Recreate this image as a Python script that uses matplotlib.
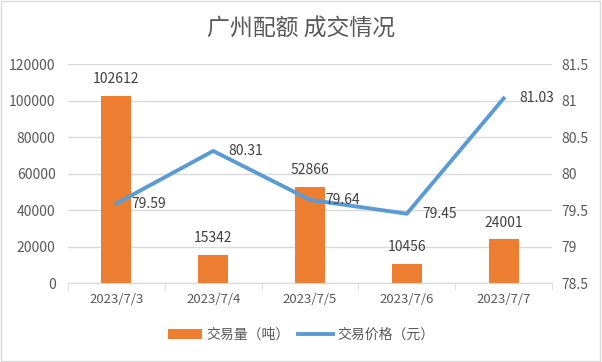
import matplotlib.pyplot as plt
import numpy as np

plt.rcParams['font.family'] = ['Noto Sans CJK SC', 'DejaVu Sans']

dates = ["2023/7/3", "2023/7/4", "2023/7/5", "2023/7/6", "2023/7/7"]
volume = [102612, 15342, 52866, 10456, 24001]
price = [79.59, 80.31, 79.64, 79.45, 81.03]

orange = '#ED7D31'
blue = '#5B9BD5'
txt = '#595959'
grid_c = '#D9D9D9'

fig = plt.figure(figsize=(6.02, 3.62), dpi=100)
ax = fig.add_axes([0.113, 0.218, 0.804, 0.605])
ax2 = ax.twinx()

x = np.arange(len(dates))
ax.bar(x, volume, width=0.31, color=orange, label='交易量（吨）', zorder=2)
ax2.plot(x, price, color=blue, lw=2.8, label='交易价格（元）', zorder=3)

ax.set_xlim(-0.5, len(dates) - 0.5)
ax.set_ylim(0, 120000)
ax.set_yticks(range(0, 120001, 20000))
ax2.set_ylim(78.5, 81.5)
ax2.set_yticks([78.5, 79, 79.5, 80, 80.5, 81, 81.5])
ax2.set_yticklabels(['78.5', '79', '79.5', '80', '80.5', '81', '81.5'])

ax.yaxis.grid(True, color=grid_c, lw=1, zorder=0)
ax.set_axisbelow(True)
for a in (ax, ax2):
    for s in a.spines.values():
        s.set_visible(False)
ax.spines['bottom'].set_visible(True)
ax.spines['bottom'].set_color(grid_c)

ax.set_xticks(x)
ax.set_xticklabels(dates)
ax.set_xticks(np.arange(-0.5, len(dates), 1), minor=True)
ax.tick_params(axis='x', which='major', length=0, pad=7, labelsize=9.5, labelcolor=txt)
ax.tick_params(axis='x', which='minor', length=5, color=grid_c)
ax.tick_params(axis='y', length=0, labelsize=10, labelcolor=txt, pad=9)
ax2.tick_params(axis='y', length=0, labelsize=10, labelcolor=txt, pad=7)

for xi, v in zip(x, volume):
    ax.annotate(str(v), (xi, v), xytext=(0, 7), textcoords='offset points',
                ha='center', va='bottom', fontsize=10, color='#404040')

for xi, p in zip(x, price):
    ax2.annotate(f"{p:.2f}", (xi, p), xytext=(11, 0), textcoords='offset points',
                 ha='left', va='center', fontsize=10, color='#404040')

fig.text(0.5, 0.92, '广州配额 成交情况', ha='center', va='center', fontsize=16.5, color=txt)

h1, l1 = ax.get_legend_handles_labels()
h2, l2 = ax2.get_legend_handles_labels()
fig.legend(h1 + h2, l1 + l2, loc='center', bbox_to_anchor=(0.5, 0.075), ncol=2,
           frameon=False, fontsize=10, labelcolor=txt, handlelength=2.5,
           handleheight=0.8, columnspacing=0.6, handletextpad=0.3)

fig.patches.append(plt.Rectangle((0.002, 0.003), 0.995, 0.994, transform=fig.transFigure,
                                 fill=False, edgecolor='#D9D9D9', lw=1))

fig.savefig('out.png', dpi=100)
